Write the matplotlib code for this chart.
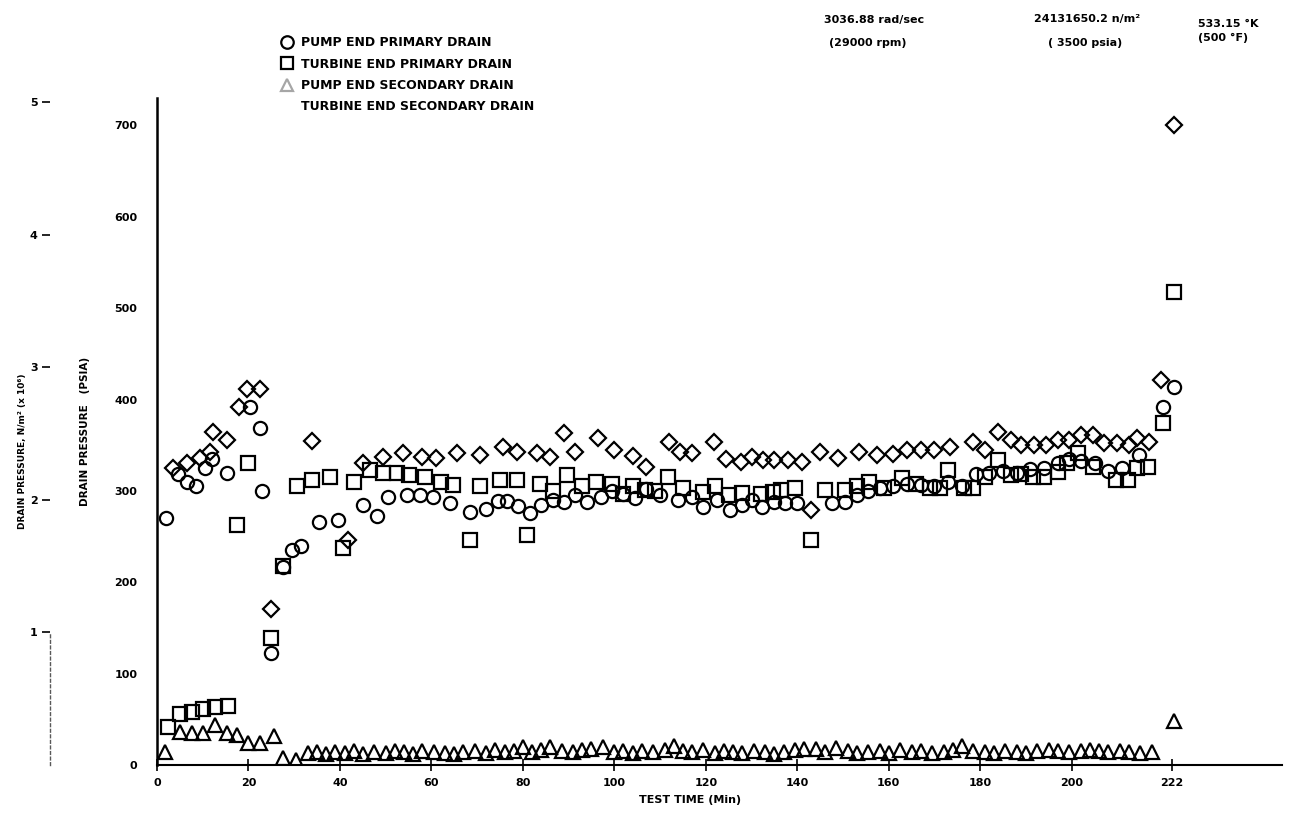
import matplotlib
matplotlib.use("Agg")
import matplotlib.pyplot as plt
from matplotlib.lines import Line2D

plt.rcParams["font.family"] = ["DejaVu Sans"]
plt.rcParams["font.weight"] = "bold"

# Test time (min) and drain pressure (psia) for each drain
pump_primary_t = [2, 4.5, 6.5, 8.5, 10.5, 12, 15.3, 20.3, 22.5, 23,
                  25, 27.6, 29.5, 31.5, 35.5, 39.5, 45, 48, 50.5, 54.7,
                  57.5, 60.4, 64, 68.5, 72, 74.5, 76.6, 79, 81.6, 84,
                  86.7, 89, 91.5, 94, 97, 99.5, 102, 104.5, 107, 110,
                  114, 117, 119.5, 122.5, 125.4, 128, 130, 132.4, 135, 137.4,
                  140, 147.7, 150.5, 153, 155.5, 158, 161, 164, 167, 170,
                  173, 176, 179, 182, 185, 188, 191, 194, 197, 199.5,
                  202, 205, 208, 211, 214.7, 220, 222.3]
pump_primary_p = [270, 318, 310, 305, 325, 335, 320, 392, 369, 300,
                  123, 217, 235, 240, 266, 268, 285, 273, 293, 295,
                  296, 293, 287, 277, 280, 289, 289, 284, 276, 285,
                  290, 288, 295, 288, 293, 300, 297, 292, 302, 296,
                  290, 293, 282, 290, 279, 285, 290, 282, 288, 287,
                  287, 287, 288, 295, 300, 303, 305, 308, 306, 305,
                  310, 305, 318, 320, 322, 320, 324, 325, 330, 335,
                  333, 330, 322, 325, 339, 392, 414]

turbine_primary_t = [2.4, 5, 7.7, 10, 12.7, 15.5, 17.5, 20, 25, 27.6,
                     30.6, 34, 37.8, 40.7, 43, 46.6, 49.5, 52.5, 55, 58.6,
                     62, 64.8, 68.5, 70.7, 75, 78.8, 81, 83.8, 86.5, 89.7,
                     93, 96, 99.6, 102, 104, 106.8, 109, 111.8, 115, 119.5,
                     122, 125, 128, 132, 134.8, 136.5, 139.6, 143, 146, 150.5,
                     153, 155.6, 159, 163, 166, 169, 171.3, 173, 176.4, 178.5,
                     181, 183.8, 186.7, 189, 191.5, 193.9, 197, 199, 201.3, 204.6,
                     209.6, 212.3, 214.4, 216.6, 220, 222.3]
turbine_primary_p = [42, 56, 58, 61, 64, 65, 263, 330, 139, 218,
                     305, 312, 315, 238, 310, 323, 320, 320, 317, 315,
                     310, 306, 246, 305, 312, 312, 252, 308, 300, 317,
                     305, 310, 308, 297, 305, 301, 300, 315, 303, 299,
                     305, 295, 298, 297, 299, 301, 303, 246, 301, 301,
                     305, 310, 303, 314, 308, 303, 303, 323, 303, 303,
                     315, 334, 317, 319, 315, 315, 321, 330, 341, 326,
                     312, 312, 325, 326, 374, 518]

pump_secondary_t = [1.8, 5, 7.7, 10, 12.7, 15.3, 17.5, 20, 22.5, 25.6,
                    27.6, 30.5, 33, 35, 37, 39, 41, 43, 45, 47.5,
                    50, 52, 54, 56, 58, 60.5, 63, 65, 67, 69.5,
                    72, 74, 76, 78, 80, 82, 84, 86, 88.5, 91,
                    93, 95, 97.5, 100, 102, 104, 106, 108.5, 111, 113,
                    115, 117, 119.5, 122, 124, 126, 128, 130.5, 133, 135,
                    137, 139.5, 141.5, 144, 146, 148.5, 151, 153, 155.5, 158,
                    160, 162.5, 165, 167, 169.5, 172, 174, 176, 178.5, 181,
                    183, 185.5, 188, 190, 192.5, 195, 197, 199.5, 202, 204,
                    206, 208, 210.5, 212.5, 215, 217.5, 222.3]
pump_secondary_p = [14, 36, 35, 35, 44, 35, 33, 24, 24, 32,
                    8, 6, 13, 14, 12, 14, 13, 15, 12, 14,
                    13, 15, 14, 12, 15, 14, 13, 12, 14, 15,
                    13, 16, 14, 15, 20, 14, 16, 20, 15, 14,
                    16, 17, 20, 14, 15, 13, 15, 14, 16, 21,
                    15, 14, 16, 13, 15, 14, 13, 15, 14, 12,
                    14, 16, 18, 17, 14, 19, 15, 13, 14, 15,
                    13, 16, 14, 15, 13, 14, 16, 21, 15, 14,
                    13, 15, 14, 13, 15, 16, 15, 14, 15, 16,
                    15, 14, 15, 14, 13, 14, 48]

turbine_secondary_t = [3.5, 6.5, 9.4, 11.5, 12.3, 15.3, 18, 19.7, 22.5, 25,
                       34, 41.8, 45, 49.5, 53.8, 58, 61, 65.6, 70.7, 75.7,
                       78.7, 83, 86, 89, 91.5, 96.5, 100, 104, 107, 112,
                       114.4, 117, 121.7, 124.5, 127.6, 130, 132.6, 135, 138, 141,
                       143, 145, 149, 153.4, 157.5, 161, 164, 167, 170, 173.5,
                       178.5, 181, 184, 186.7, 189, 191.7, 194.3, 197, 199.4, 202,
                       204.6, 207, 210, 212.5, 214.4, 217, 219.5, 222.3]
turbine_secondary_p = [325, 330, 336, 343, 364, 356, 392, 412, 412, 171,
                       355, 246, 330, 337, 341, 337, 336, 341, 339, 348,
                       343, 341, 337, 363, 343, 358, 345, 338, 326, 354,
                       343, 341, 354, 335, 332, 337, 334, 334, 334, 332,
                       279, 343, 336, 343, 339, 340, 345, 345, 345, 348,
                       353, 345, 364, 356, 350, 350, 350, 356, 356, 361,
                       361, 352, 352, 350, 358, 354, 421, 700]

x_ticks = [0, 20, 40, 60, 80, 100, 120, 140, 160, 180, 200, 222]
psia_ticks = [0, 100, 200, 300, 400, 500, 600, 700]
mpa_ticks = [1, 2, 3, 4, 5]
PSI_PER_MPA = 145.038

fig = plt.figure(figsize=(12.91, 8.38), dpi=100)
W, H = 1291, 838
ax = fig.add_axes([157 / W, 73 / H, 1125 / W, 667 / H])
ax.set_xlim(0, 246)
ax.set_ylim(0, 730)

mk = dict(ls="none", mfc="none", mec="black", mew=1.6)
ax.plot(pump_primary_t, pump_primary_p, marker="o", ms=9.5, **mk)
ax.plot(turbine_primary_t, turbine_primary_p, marker="s", ms=9.5, **mk)
ax.plot(pump_secondary_t, pump_secondary_p, marker="^", ms=9.5, **mk)
ax.plot(turbine_secondary_t, turbine_secondary_p, marker="D", ms=8.5, **mk)

for side in ("top", "right"):
    ax.spines[side].set_visible(False)
ax.spines["left"].set_linewidth(1.8)
ax.spines["bottom"].set_linewidth(1.5)

ax.set_xticks(x_ticks)
ax.set_xticklabels([str(v) for v in x_ticks], fontsize=8, fontweight="bold")
ax.tick_params(axis="x", direction="inout", length=8, width=1.2, pad=5)
ax.set_yticks(psia_ticks)
ax.set_yticklabels([str(v) for v in psia_ticks], fontsize=8, fontweight="bold")
ax.tick_params(axis="y", length=0, pad=14)

ax.set_xlabel("TEST TIME (Min)", fontsize=8, fontweight="bold")
ax.xaxis.set_label_coords(0.474, -0.045)
ax.set_ylabel("DRAIN PRESSURE   (PSIA)", fontsize=7.5, fontweight="bold")
ax.yaxis.set_label_coords(-0.06, 0.50)

# SI pressure scale on the far left
sec = ax.secondary_yaxis(-0.095, functions=(lambda p: p / PSI_PER_MPA,
                                             lambda m: m * PSI_PER_MPA))
sec.set_yticks(mpa_ticks)
sec.set_yticklabels([str(v) for v in mpa_ticks], fontsize=8, fontweight="bold")
sec.tick_params(axis="y", direction="out", length=6, width=1.2, pad=3)
sec.spines["left"].set_bounds(0, 1)
sec.spines["left"].set_linestyle((0, (2, 2)))
sec.spines["left"].set_linewidth(1.0)
sec.spines["left"].set_color("0.35")
ax.text(-0.12, 0.47, "DRAIN PRESSURE, N/m² (x 10⁶)", transform=ax.transAxes,
        rotation=90, ha="center", va="center", fontsize=6.5, fontweight="bold")

handles = [
    Line2D([], [], marker="o", ms=9, **mk),
    Line2D([], [], marker="s", ms=9, **mk),
    Line2D([], [], marker="^", ms=9, alpha=0.35, **mk),
    Line2D([], [], marker="None", ls="none"),
]
labels = ["PUMP END PRIMARY DRAIN", "TURBINE END PRIMARY DRAIN",
          "PUMP END SECONDARY DRAIN", "TURBINE END SECONDARY DRAIN"]
fig.legend(handles, labels, loc="upper left", bbox_to_anchor=(281 / W, 1 - 36 / H),
           frameon=False, fontsize=9, handlelength=1.0, handletextpad=0.6,
           labelspacing=0.68, borderpad=0, borderaxespad=0)

fig.text(874 / W, 1 - 20 / H, "3036.88 rad/sec", ha="center", va="center",
         fontsize=8, fontweight="bold")
fig.text(868 / W, 1 - 43 / H, "(29000 rpm)", ha="center", va="center",
         fontsize=8, fontweight="bold")
fig.text(1087 / W, 1 - 19 / H, "24131650.2 n/m²", ha="center", va="center",
         fontsize=8, fontweight="bold")
fig.text(1085 / W, 1 - 43 / H, "( 3500 psia)", ha="center", va="center",
         fontsize=8, fontweight="bold")
fig.text(1198 / W, 1 - 24 / H, "533.15 °K", ha="left", va="center",
         fontsize=8, fontweight="bold")
fig.text(1198 / W, 1 - 38 / H, "(500 °F)", ha="left", va="center",
         fontsize=8, fontweight="bold")

fig.savefig("out.png", dpi=100)
